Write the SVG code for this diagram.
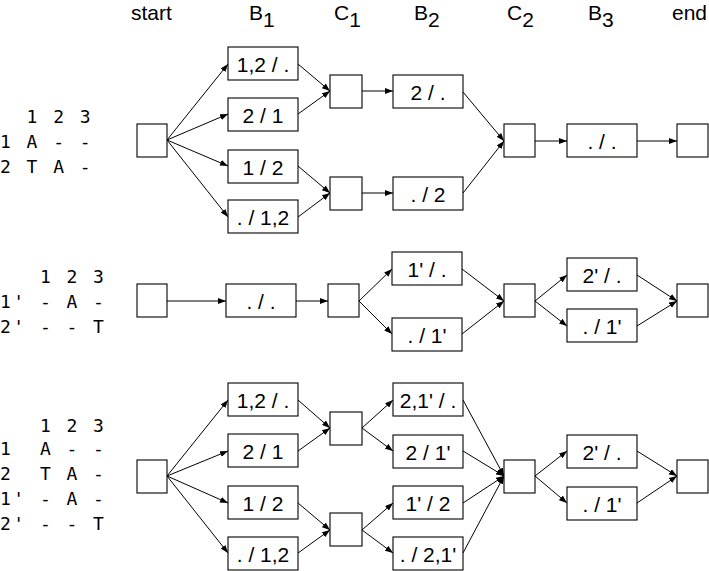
<svg xmlns="http://www.w3.org/2000/svg" width="709" height="571" viewBox="0 0 709 571">
<style>
.bx{fill:#fff;stroke:#000;stroke-width:1.1}
.lb{font-family:"Liberation Sans",Arial,sans-serif;font-size:21px;text-anchor:middle;fill:#000}
.hd{font-family:"Liberation Sans",Arial,sans-serif;font-size:21px;fill:#000}
.mn{font-family:"DejaVu Sans Mono",monospace;font-size:18px;fill:#000}
.cn line{stroke:#000;stroke-width:1;marker-end:url(#ah)}
</style>
<defs>
<marker id="ah" markerUnits="userSpaceOnUse" markerWidth="8" markerHeight="6" refX="8" refY="3" orient="auto">
<path d="M0,0 L8,3 L0,6 z" fill="#000"/>
</marker>
</defs>
<g id="headers">
<text class="hd" x="131" y="19.5">start</text>
<text class="hd" x="249" y="19.5">B<tspan dy="7">1</tspan></text>
<text class="hd" x="334" y="19.5">C<tspan dy="7">1</tspan></text>
<text class="hd" x="414" y="19.5">B<tspan dy="7">2</tspan></text>
<text class="hd" x="507" y="19.5">C<tspan dy="7">2</tspan></text>
<text class="hd" x="588" y="19.5">B<tspan dy="7">3</tspan></text>
<text class="hd" x="672" y="19.5">end</text>
</g>
<g id="table1" class="mn">
<text x="26.6 39.9 53.2 66.5 79.8" y="123">1 2 3</text>
<text x="0 13.3 26.6 39.9 53.2 66.5 79.8" y="148">1 A - -</text>
<text x="0 13.3 26.6 39.9 53.2 66.5 79.8" y="173">2 T A -</text>
</g>
<g id="table2" class="mn">
<text x="39.9 53.2 66.5 79.8 93.1" y="283">1 2 3</text>
<text x="0 13.3 26.6 39.9 53.2 66.5 79.8 93.1" y="308">1' - A -</text>
<text x="0 13.3 26.6 39.9 53.2 66.5 79.8 93.1" y="333">2' - - T</text>
</g>
<g id="table3" class="mn">
<text x="39.9 53.2 66.5 79.8 93.1" y="432">1 2 3</text>
<text x="0 26.6 39.9 53.2 66.5 79.8 93.1" y="455">1 A - -</text>
<text x="0 26.6 39.9 53.2 66.5 79.8 93.1" y="480">2 T A -</text>
<text x="0 13.3 26.6 39.9 53.2 66.5 79.8 93.1" y="505">1' - A -</text>
<text x="0 13.3 26.6 39.9 53.2 66.5 79.8 93.1" y="530">2' - - T</text>
</g>
<g class="cn" id="connectors">
<line x1="167" y1="140" x2="228" y2="64"/>
<line x1="167" y1="140" x2="228" y2="114"/>
<line x1="167" y1="140" x2="228" y2="166"/>
<line x1="167" y1="140" x2="228" y2="217"/>
<line x1="298" y1="64" x2="330" y2="91"/>
<line x1="298" y1="114" x2="330" y2="91"/>
<line x1="298" y1="166" x2="330" y2="193"/>
<line x1="298" y1="217" x2="330" y2="193"/>
<line x1="362" y1="91" x2="393" y2="91"/>
<line x1="362" y1="193" x2="393" y2="193"/>
<line x1="463" y1="92" x2="504" y2="141"/>
<line x1="463" y1="193" x2="504" y2="141"/>
<line x1="535" y1="141" x2="567" y2="141"/>
<line x1="637" y1="141" x2="677" y2="141"/>
<line x1="167" y1="301" x2="226" y2="301"/>
<line x1="296" y1="301" x2="328" y2="301"/>
<line x1="359" y1="301" x2="392" y2="269"/>
<line x1="359" y1="301" x2="392" y2="334"/>
<line x1="462" y1="269" x2="504" y2="301"/>
<line x1="462" y1="334" x2="504" y2="301"/>
<line x1="535" y1="301" x2="567" y2="275"/>
<line x1="535" y1="301" x2="567" y2="326"/>
<line x1="637" y1="275" x2="677" y2="301"/>
<line x1="637" y1="326" x2="677" y2="301"/>
<line x1="167" y1="476" x2="228" y2="400"/>
<line x1="167" y1="476" x2="228" y2="451"/>
<line x1="167" y1="476" x2="228" y2="503"/>
<line x1="167" y1="476" x2="228" y2="553"/>
<line x1="298" y1="400" x2="330" y2="428"/>
<line x1="298" y1="451" x2="330" y2="428"/>
<line x1="298" y1="503" x2="330" y2="530"/>
<line x1="298" y1="553" x2="330" y2="530"/>
<line x1="362" y1="428" x2="393" y2="400"/>
<line x1="362" y1="428" x2="393" y2="451"/>
<line x1="362" y1="530" x2="393" y2="503"/>
<line x1="362" y1="530" x2="393" y2="553"/>
<line x1="463" y1="400" x2="504" y2="476"/>
<line x1="463" y1="451" x2="504" y2="476"/>
<line x1="463" y1="503" x2="504" y2="476"/>
<line x1="463" y1="553" x2="504" y2="476"/>
<line x1="535" y1="476" x2="567" y2="451"/>
<line x1="535" y1="476" x2="567" y2="503"/>
<line x1="637" y1="451" x2="677" y2="476"/>
<line x1="637" y1="503" x2="677" y2="476"/>
</g>
<g id="s1-start"><rect class="bx" x="137" y="124" width="30" height="33"/></g>
<g id="s1-b1a"><rect class="bx" x="228" y="47" width="70" height="33"/><text class="lb" x="263" y="72">1,2 / .</text></g>
<g id="s1-b1b"><rect class="bx" x="228" y="98" width="70" height="33"/><text class="lb" x="263" y="123">2 / 1</text></g>
<g id="s1-b1c"><rect class="bx" x="228" y="150" width="70" height="33"/><text class="lb" x="263" y="175">1 / 2</text></g>
<g id="s1-b1d"><rect class="bx" x="228" y="200" width="70" height="33"/><text class="lb" x="263" y="225">. / 1,2</text></g>
<g id="s1-c1a"><rect class="bx" x="330" y="75" width="32" height="33"/></g>
<g id="s1-c1b"><rect class="bx" x="330" y="177" width="32" height="33"/></g>
<g id="s1-b2a"><rect class="bx" x="393" y="75" width="70" height="33"/><text class="lb" x="428" y="100">2 / .</text></g>
<g id="s1-b2b"><rect class="bx" x="393" y="177" width="70" height="33"/><text class="lb" x="428" y="202">. / 2</text></g>
<g id="s1-c2"><rect class="bx" x="504" y="124" width="31" height="33"/></g>
<g id="s1-b3"><rect class="bx" x="567" y="124" width="70" height="33"/><text class="lb" x="602" y="149">. / .</text></g>
<g id="s1-end"><rect class="bx" x="677" y="124" width="31" height="33"/></g>
<g id="s2-start"><rect class="bx" x="137" y="284" width="30" height="33"/></g>
<g id="s2-b1"><rect class="bx" x="226" y="284" width="70" height="33"/><text class="lb" x="261" y="309">. / .</text></g>
<g id="s2-c1"><rect class="bx" x="328" y="284" width="31" height="33"/></g>
<g id="s2-b2a"><rect class="bx" x="392" y="252" width="70" height="33"/><text class="lb" x="427" y="277">1' / .</text></g>
<g id="s2-b2b"><rect class="bx" x="392" y="318" width="70" height="33"/><text class="lb" x="427" y="343">. / 1'</text></g>
<g id="s2-c2"><rect class="bx" x="504" y="284" width="31" height="33"/></g>
<g id="s2-b3a"><rect class="bx" x="567" y="258" width="70" height="33"/><text class="lb" x="602" y="283">2' / .</text></g>
<g id="s2-b3b"><rect class="bx" x="567" y="309" width="70" height="33"/><text class="lb" x="602" y="334">. / 1'</text></g>
<g id="s2-end"><rect class="bx" x="677" y="284" width="31" height="33"/></g>
<g id="s3-start"><rect class="bx" x="137" y="460" width="30" height="33"/></g>
<g id="s3-b1a"><rect class="bx" x="228" y="383" width="70" height="33"/><text class="lb" x="263" y="408">1,2 / .</text></g>
<g id="s3-b1b"><rect class="bx" x="228" y="434" width="70" height="33"/><text class="lb" x="263" y="459">2 / 1</text></g>
<g id="s3-b1c"><rect class="bx" x="228" y="486" width="70" height="33"/><text class="lb" x="263" y="511">1 / 2</text></g>
<g id="s3-b1d"><rect class="bx" x="228" y="537" width="70" height="33"/><text class="lb" x="263" y="562">. / 1,2</text></g>
<g id="s3-c1a"><rect class="bx" x="330" y="412" width="32" height="33"/></g>
<g id="s3-c1b"><rect class="bx" x="330" y="513" width="32" height="33"/></g>
<g id="s3-b2a"><rect class="bx" x="393" y="383" width="70" height="33"/><text class="lb" x="428" y="408">2,1' / .</text></g>
<g id="s3-b2b"><rect class="bx" x="393" y="435" width="70" height="33"/><text class="lb" x="428" y="460">2 / 1'</text></g>
<g id="s3-b2c"><rect class="bx" x="393" y="486" width="70" height="33"/><text class="lb" x="428" y="511">1' / 2</text></g>
<g id="s3-b2d"><rect class="bx" x="393" y="537" width="70" height="33"/><text class="lb" x="428" y="562">. / 2,1'</text></g>
<g id="s3-c2"><rect class="bx" x="504" y="460" width="31" height="33"/></g>
<g id="s3-b3a"><rect class="bx" x="567" y="435" width="70" height="33"/><text class="lb" x="602" y="460">2' / .</text></g>
<g id="s3-b3b"><rect class="bx" x="567" y="487" width="70" height="33"/><text class="lb" x="602" y="512">. / 1'</text></g>
<g id="s3-end"><rect class="bx" x="677" y="460" width="31" height="33"/></g>
</svg>
